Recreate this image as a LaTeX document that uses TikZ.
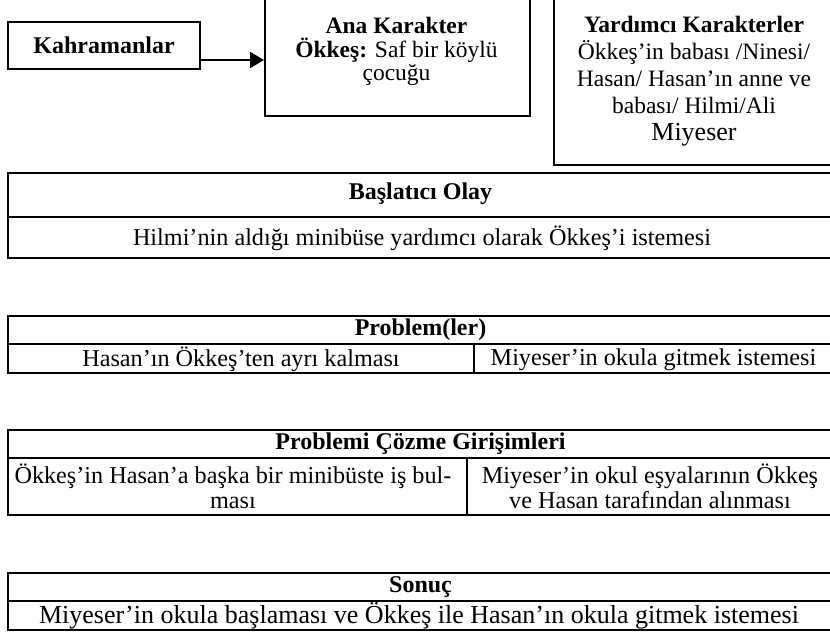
\documentclass[tikz,border=0pt]{standalone}
\usepackage{fontspec}
\setmainfont{Liberation Serif}
\usetikzlibrary{arrows.meta,calc}
\begin{document}
\begin{tikzpicture}[x=1pt,y=1pt,
  bx/.style={draw, line width=1.6pt, inner sep=0pt},
  txt/.style={inner sep=0pt, align=center, font=\fontsize{24.2}{25}\selectfont},
  hdr/.style={txt, font=\fontsize{24}{25}\selectfont\bfseries},
  tb/.style={line width=2pt},
  sep/.style={line width=1.2pt},
  arr/.style={line width=2pt, -{Triangle[length=14pt,width=16pt]}}]
\useasboundingbox (0,0) rectangle (830,-635);
\fill[white] (0,0) rectangle (830,-635);

% Kahramanlar
\node[bx, minimum width=192, minimum height=47] (kah) at (104,-45.5) {};
\node[hdr] (kaht) at (kah.center) {Kahramanlar};

% Ana Karakter
\node[bx, minimum width=265, minimum height=135, anchor=south west] (ana) at (264,-117) {};
\node[txt, font=\fontsize{23.5}{23.5}\selectfont, anchor=north] (anat) at (396.5,-17)
  {\textbf{Ana Karakter}\\ \textbf{Ökkeş:} Saf bir köylü\\ çocuğu};

% Yardimci Karakterler
\node[bx, minimum width=290, minimum height=185, anchor=south west] (yar) at (553,-166) {};
\node[txt, font=\fontsize{23.5}{27}\selectfont, anchor=north] (yart) at (694,-16)
  {\textbf{Yardımcı Karakterler}\\ Ökkeş’in babası /Ninesi/\\ Hasan/ Hasan’ın anne ve\\ babası/ Hilmi/Ali\\ {\fontsize{26}{27}\selectfont Miyeser}};

% arrow
\coordinate (as) at ([yshift=-14.5pt]kah.east);
\draw[arr] (as) -- (as -| ana.west);

% Baslatici Olay
\draw[tb] (8,-172.7) rectangle (840,-258);
\draw[tb] (8,-216.7) -- (840,-216.7);
\node[hdr] (bh) at (420.5,-194) {Başlatıcı Olay};
\node[txt] (br) at (422,-238) {Hilmi’nin aldığı minibüse yardımcı olarak Ökkeş’i istemesi};

% Problem(ler)
\draw[tb] (8,-316) rectangle (840,-373);
\draw[tb] (8,-344) -- (840,-344);
\draw[sep] (474,-344) -- (474,-373);
\node[hdr] (ph) at (420.5,-330) {Problem(ler)};
\node[txt] (p1) at (241,-359.5) {Hasan’ın Ökkeş’ten ayrı kalması};
\node[txt] (p2) at (653.5,-359.5) {Miyeser’in okula gitmek istemesi};

% Problemi Cozme Girisimleri
\draw[tb] (8,-430) rectangle (840,-515);
\draw[tb] (8,-458) -- (840,-458);
\draw[sep] (467,-458) -- (467,-515);
\node[hdr] (gh) at (420.5,-444) {Problemi Çözme Girişimleri};
\node[txt] (g1) at (233,-486.5) {Ökkeş’in Hasan’a başka bir minibüste iş bul-\\ması};
\node[txt] (g2) at (650,-486.5) {Miyeser’in okul eşyalarının Ökkeş\\ve Hasan tarafından alınması};

% Sonuc
\draw[tb] (8,-573) rectangle (840,-630);
\draw[tb] (8,-601) -- (840,-601);
\node[hdr] (sh) at (420.5,-587) {Sonuç};
\node[txt, font=\fontsize{26}{27}\selectfont] (sr) at (419,-615.5) {Miyeser’in okula başlaması ve Ökkeş ile Hasan’ın okula gitmek istemesi};
\end{tikzpicture}
\end{document}
